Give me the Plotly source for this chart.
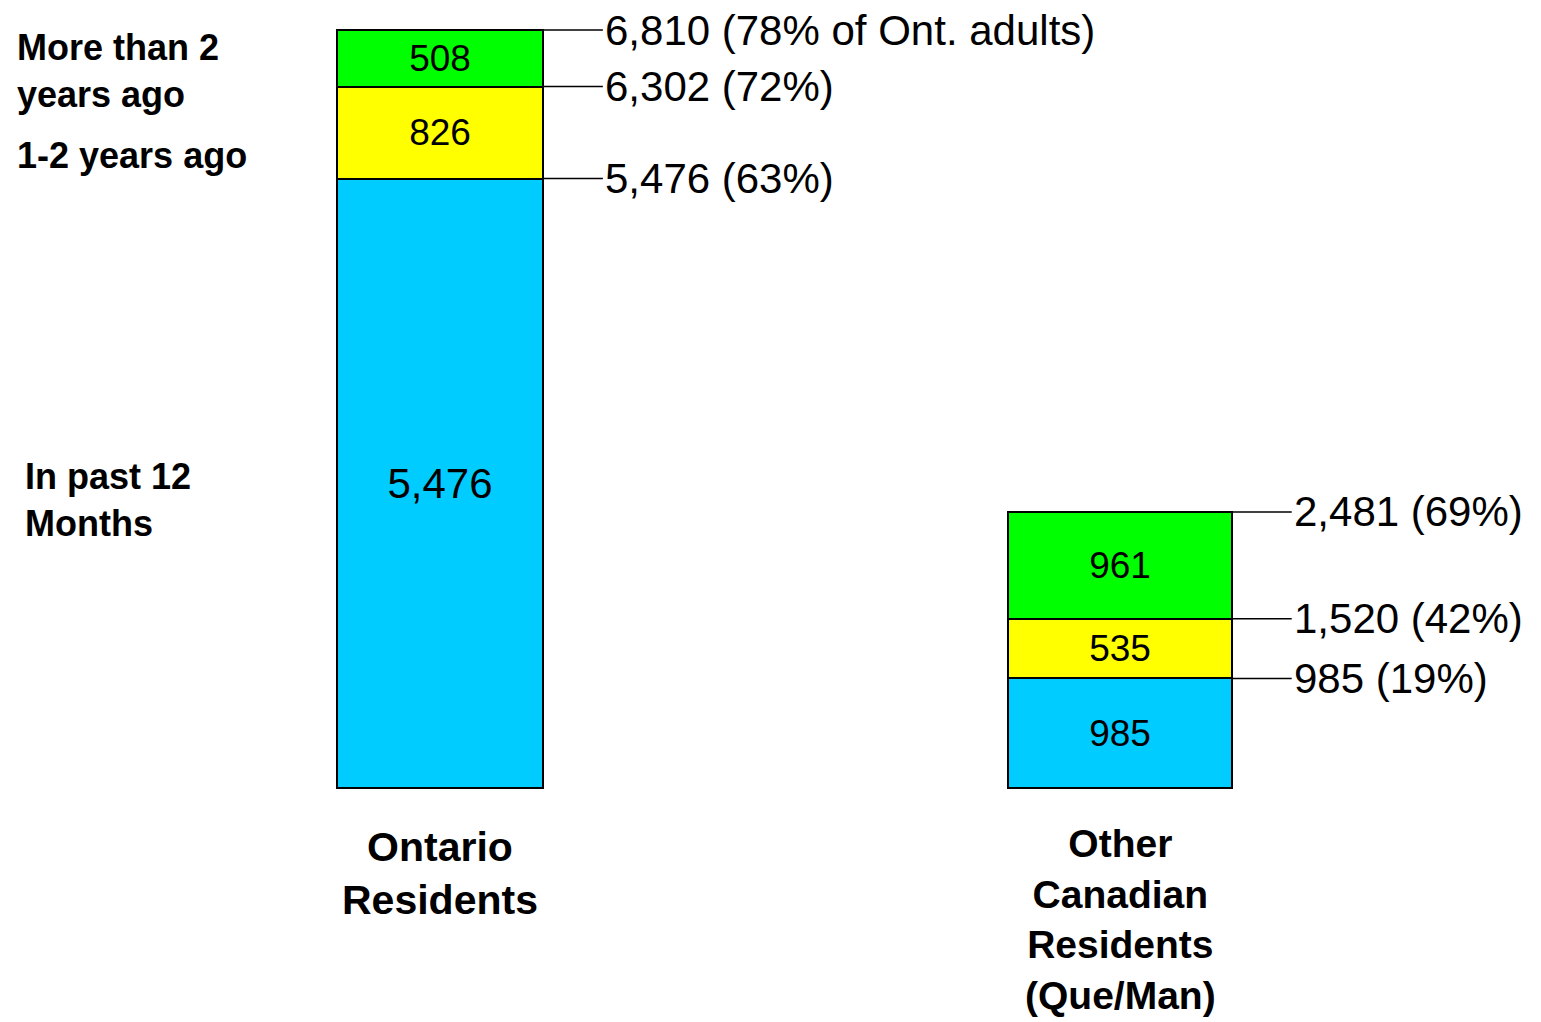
import numpy as np
import plotly.graph_objects as go

# Data
categories = ['Ontario<br>Residents', 'Other<br>Canadian<br>Residents<br>(Que/Man)']
series_names = ['In past 12 Months', '1-2 years ago', 'More than 2 years ago']
past_12_months = [5476, 985]
one_to_two_years = [826, 535]
more_than_two_years = [508, 961]
ontario_pct = [63, 72, 78]
other_pct = [19, 42, 69]

# page body has an 8px margin, so the figure is drawn 8px smaller and shifted
OFF = 8
W, H = 1541 - OFF, 1022 - OFF
FONT = 'Liberation Sans, Arial, sans-serif'
COLORS = ['#00CCFF', '#FFFF00', '#00FF00']
bar_widths = [0.303, 0.329]
leader_len = [0.088, 0.088]

series = [past_12_months, one_to_two_years, more_than_two_years]

fig = go.Figure()

for name, vals, color in zip(series_names, series, COLORS):
    fig.add_trace(go.Bar(
        x=categories,
        y=vals,
        name=name,
        width=bar_widths,
        marker=dict(color=color, line=dict(color='black', width=2)),
        text=[f'{v:,}' for v in vals],
        textposition='inside',
        insidetextanchor='middle',
        constraintext='none',
        textfont=dict(family=FONT, color='black',
                      size=[42 if v > 3000 else 37 for v in vals]),
        hoverinfo='skip',
    ))

# Leader lines and cumulative labels on the right of each bar
cums = np.cumsum(np.array(series), axis=0)
pcts = [ontario_pct, other_pct]
for i in range(len(categories)):
    x_edge = i + bar_widths[i] / 2
    for k in range(len(series)):
        total = int(cums[k, i])
        label = f'{total:,} ({pcts[i][k]}%'
        if i == 0 and k == len(series) - 1:
            label += ' of Ont. adults'
        label += ')'
        fig.add_shape(type='line', xref='x', yref='y',
                      x0=x_edge, x1=x_edge + leader_len[i], y0=total, y1=total,
                      line=dict(color='black', width=1.5))
        fig.add_annotation(x=x_edge + leader_len[i], y=total, xref='x', yref='y',
                           text=label, showarrow=False, xanchor='left', yanchor='middle',
                           font=dict(family=FONT, size=42, color='black'))

# Category labels below the bars
cat_label_top = [822, 820]
cat_label_size = [41, 39]
for cat, top, size in zip(categories, cat_label_top, cat_label_size):
    fig.add_annotation(x=cat, y=1 - (top - OFF) / H, xref='x', yref='paper',
                       text=f'<b>{cat}</b>', showarrow=False, align='center',
                       xanchor='center', yanchor='top',
                       font=dict(family=FONT, size=size, color='black'))

# Series labels on the left
left_labels = [
    ('<b>More than 2<br>years ago</b>', 15, 71),
    ('<b>1-2 years ago</b>', 15, 156),
    ('<b>In past 12<br>Months</b>', 23, 500),
]
for text, px, py in left_labels:
    fig.add_annotation(x=(px - OFF) / W, y=1 - (py - OFF) / H, xref='paper', yref='paper',
                       text=text, showarrow=False, align='left',
                       xanchor='left', yanchor='middle',
                       font=dict(family=FONT, size=36, color='black'))

fig.update_layout(
    width=W, height=H,
    barmode='stack',
    showlegend=False,
    plot_bgcolor='white',
    paper_bgcolor='white',
    margin=dict(l=0, r=0, t=0, b=0),
    xaxis=dict(range=[-0.6353, 1.6191], showticklabels=False, showgrid=False,
               zeroline=False, showline=False, fixedrange=True),
    yaxis=dict(range=[-2102, 7008], showticklabels=False, showgrid=False,
               zeroline=False, showline=False, fixedrange=True),
)

fig.write_html('out.html', config={'displayModeBar': False})
